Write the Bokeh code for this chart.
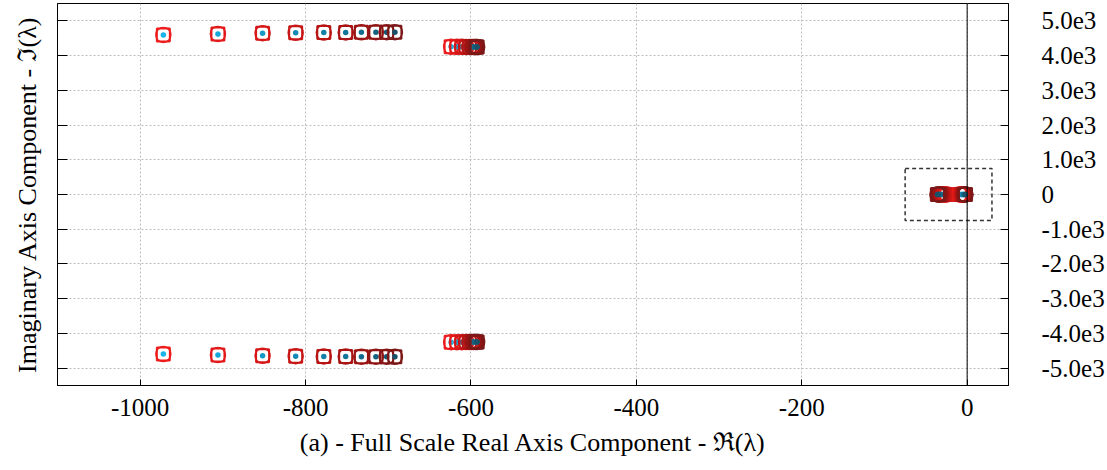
from bokeh.plotting import figure
from bokeh.models import Range1d, LinearAxis, FixedTicker, Span
from bokeh.embed import file_html
from bokeh.resources import INLINE

# Eigenvalue loci for ten successive parameter steps (upper half-plane;
# the lower half is the complex conjugate).
upper_re = [-972, -906, -852, -812, -778, -751.5, -732.5, -715, -702, -692]
upper_im = [4595, 4625, 4645, 4655, 4662, 4667, 4670, 4672, 4673, 4674]
mid_re = [-624, -617, -611, -606, -602, -599, -597, -595, -593.5, -592.5]
mid_im = [4255, 4253, 4251, 4250, 4249, 4248, 4247, 4246, 4246, 4245]
real_a = [-24.5, -26, -27.5, -29, -30.5, -32, -33, -34, -35, -36]
real_b = [-9.3, -8, -7, -6, -5, -4.3, -3.6, -3, -2.4, -2]

x_ticks = [-1000, -800, -600, -400, -200, 0]
x_tick_labels = ["-1000", "-800", "-600", "-400", "-200", "0"]
y_ticks = [5000, 4000, 3000, 2000, 1000, 0, -1000, -2000, -3000, -4000, -5000]
y_tick_labels = ["5.0e3", "4.0e3", "3.0e3", "2.0e3", "1.0e3", "0",
                 "-1.0e3", "-2.0e3", "-3.0e3", "-4.0e3", "-5.0e3"]

# Window later shown enlarged
zoom_left, zoom_right, zoom_bottom, zoom_top = -75, 30, -750, 750

ring_colors = ["#ee1c1c", "#e31a1a", "#d61818", "#c81616", "#b81515",
               "#aa1414", "#9c1414", "#901515", "#861616", "#7c1818"]
dot_colors = ["#19b4ea", "#17a6d8", "#1598c6", "#148bb6", "#1380a8",
              "#13769a", "#136c8d", "#146381", "#165a75", "#18526a"]

FONT = "Liberation Serif"

p = figure(width=1107, height=470, output_backend="svg", toolbar_location=None,
           x_range=Range1d(-1100, 50), y_range=Range1d(-5500, 5500),
           min_border_left=57, min_border_right=99, min_border_top=3,
           min_border_bottom=85, y_axis_location=None)
p.outline_line_color = "black"
p.outline_line_width = 1
p.background_fill_color = "white"
p.border_fill_color = "white"

# bottom axis
xa = p.xaxis[0]
xa.ticker = FixedTicker(ticks=x_ticks)
xa.major_label_overrides = {t: s for t, s in zip(x_ticks, x_tick_labels)}
xa.major_tick_in = 6
xa.major_tick_out = 0
xa.minor_tick_line_color = None
xa.major_label_text_font = FONT
xa.major_label_text_font_size = "25px"
xa.major_label_text_color = "black"
xa.major_label_standoff = 13
xa.axis_label = "(a) - Full Scale Real Axis Component - \u211c(\u03bb)"
xa.axis_label_text_font = FONT
xa.axis_label_text_font_size = "26px"
xa.axis_label_text_font_style = "normal"
xa.axis_label_text_color = "black"
xa.axis_label_standoff = 9
xa.axis_line_color = "black"

# left axis: ticks and title only
la = LinearAxis(ticker=FixedTicker(ticks=y_ticks))
la.major_label_text_font_size = "1px"
la.major_label_text_color = None
la.major_label_standoff = 0
la.major_tick_in = 10
la.major_tick_out = 0
la.minor_tick_line_color = None
la.axis_label = "Imaginary Axis Component - \u2111(\u03bb)"
la.axis_label_text_font = FONT
la.axis_label_text_font_size = "26px"
la.axis_label_text_font_style = "normal"
la.axis_label_text_color = "black"
la.axis_label_standoff = 16
p.add_layout(la, "left")

# right axis: ticks pointing inward, value labels
ra = LinearAxis(ticker=FixedTicker(ticks=y_ticks))
ra.major_label_overrides = {t: s for t, s in zip(y_ticks, y_tick_labels)}
ra.major_tick_in = 8
ra.major_tick_out = 0
ra.minor_tick_line_color = None
ra.major_label_text_font = FONT
ra.major_label_text_font_size = "25px"
ra.major_label_text_color = "black"
ra.major_label_standoff = 33
p.add_layout(ra, "right")

p.xgrid[0].ticker = FixedTicker(ticks=x_ticks)
p.xgrid.grid_line_color = "#bdbdbd"
p.xgrid.grid_line_dash = "2 2"
p.xgrid.grid_line_width = 1
p.ygrid[0].ticker = FixedTicker(ticks=y_ticks)
p.ygrid.grid_line_color = "#bdbdbd"
p.ygrid.grid_line_dash = "2 2"
p.ygrid.grid_line_width = 1

p.add_layout(Span(location=0, dimension="height", line_color="black", line_width=1))

p.quad(left=[zoom_left], right=[zoom_right], bottom=[zoom_bottom], top=[zoom_top],
       fill_color=None, line_color="#333333", line_width=1.5, line_dash="4 3")

for k in range(len(upper_re)):
    xs = [upper_re[k], upper_re[k], mid_re[k], mid_re[k], real_a[k], real_b[k]]
    ys = [upper_im[k], -upper_im[k], mid_im[k], -mid_im[k], 0, 0]
    p.scatter(xs, ys, marker="square", size=13, fill_color=None,
              line_color=ring_colors[k], line_width=2)
    p.scatter(xs, ys, marker="circle", size=15, fill_color=None,
              line_color=ring_colors[k], line_width=1.5)
    p.scatter(xs, ys, marker="circle", size=5.5, fill_color=dot_colors[k],
              line_color=None)

open("out.html", "w").write(file_html(p, INLINE))
